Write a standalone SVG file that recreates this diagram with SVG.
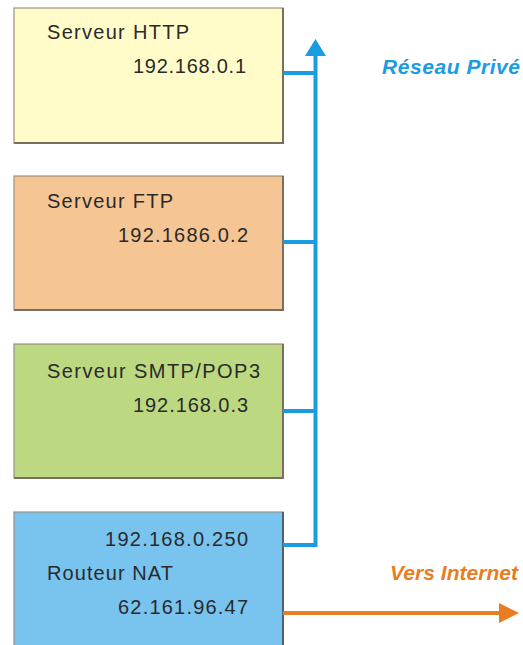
<svg xmlns="http://www.w3.org/2000/svg" width="523" height="645" viewBox="0 0 523 645">
<style>
.box{stroke:#9a9080;stroke-width:1.2}
.sh{fill:none;stroke:#7a6e5e;stroke-width:2}
.t{font-family:"Liberation Sans",Arial,sans-serif;font-size:20px;fill:#2a2a2a}
.r{text-anchor:end}
.blue{stroke:#1a9be2;stroke-width:4;fill:none}
.orange{stroke:#e87d22;stroke-width:4;fill:none}
.lbl{font-family:"Liberation Sans",Arial,sans-serif;font-size:21px;font-weight:bold;font-style:italic}
</style>
<rect width="523" height="645" fill="#ffffff"/>
<g id="http">
<rect class="box" x="14" y="8" width="269" height="135" fill="#fffcc9"/>
<path class="sh" d="M283,8 V143 H14"/>
<text class="t" x="47" y="39" textLength="142" lengthAdjust="spacing">Serveur HTTP</text>
<text class="t" x="133" y="73" textLength="113" lengthAdjust="spacing">192.168.0.1</text>
</g>
<g id="ftp">
<rect class="box" x="14" y="176" width="269" height="134" fill="#f5c594"/>
<path class="sh" d="M283,176 V310 H14"/>
<text class="t" x="47" y="208" textLength="126" lengthAdjust="spacing">Serveur FTP</text>
<text class="t" x="118" y="242" textLength="130" lengthAdjust="spacing">192.1686.0.2</text>
</g>
<g id="smtp">
<rect class="box" x="14" y="344" width="269" height="134" fill="#bcd881"/>
<path class="sh" d="M283,344 V478 H14"/>
<text class="t" x="47" y="378" textLength="213" lengthAdjust="spacing">Serveur SMTP/POP3</text>
<text class="t" x="133" y="412" textLength="115" lengthAdjust="spacing">192.168.0.3</text>
</g>
<g id="nat">
<rect class="box" x="14" y="512" width="269" height="140" fill="#79c3ef" stroke="#4f6070"/>
<path d="M283,512 V645" stroke="#4f6070" stroke-width="2"/>
<text class="t" x="105" y="546" textLength="143" lengthAdjust="spacing">192.168.0.250</text>
<text class="t" x="47" y="580" textLength="126" lengthAdjust="spacing">Routeur NAT</text>
<text class="t" x="118" y="614" textLength="130" lengthAdjust="spacing">62.161.96.47</text>
</g>
<g id="connectors">
<path class="blue" d="M283,545 H315.5 V52"/>
<polygon points="315.5,39 305,56 326,56" fill="#1a9be2"/>
<path class="blue" d="M283,73 H315.5"/>
<path class="blue" d="M283,242 H315.5"/>
<path class="blue" d="M283,411 H315.5"/>
<path class="orange" d="M283,613 H502"/>
<polygon points="519,613 499,603 499,623" fill="#e87d22"/>
</g>
<g id="labels">
<text class="lbl" x="382" y="74" textLength="138" lengthAdjust="spacing" fill="#1a9be2">Réseau Privé</text>
<text class="lbl" x="390" y="580" textLength="128" lengthAdjust="spacing" fill="#e87d22">Vers Internet</text>
</g>
</svg>
